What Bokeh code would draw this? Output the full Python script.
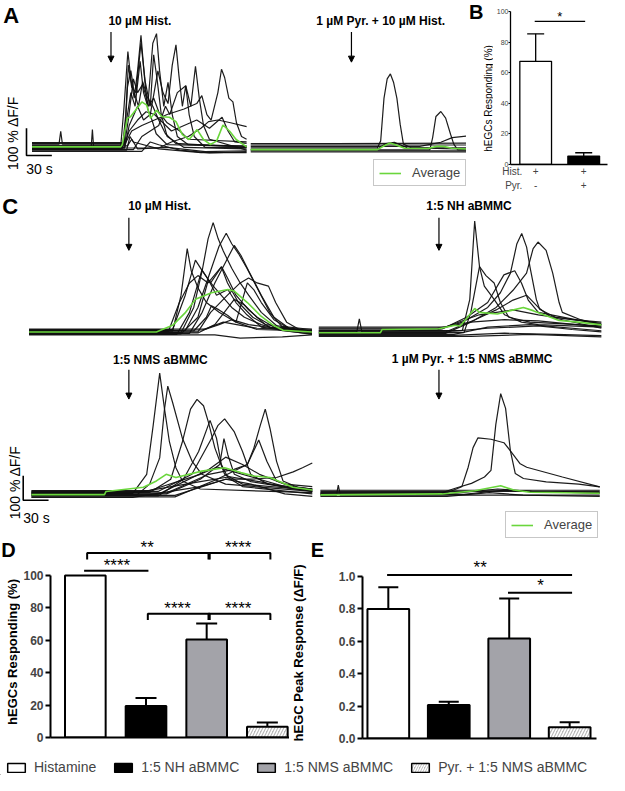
import numpy as np
from bokeh.plotting import figure
from bokeh.models import (Range1d, Arrow, NormalHead, Label, Legend, LegendItem, LinearAxis,
                          FixedTicker, NumeralTickFormatter, Whisker, TeeHead, ColumnDataSource)
from bokeh.layouts import column, row
from bokeh.embed import file_html
from bokeh.resources import INLINE
from bokeh.core.properties import value

FONT = "Liberation Sans"
FONT_V = value(FONT)
GREEN = "#6ad63c"
INK = "#101010"
SX, SY = 609 / 625, 775 / 791

# ------------------------------------------------------------------ data
# Calcium traces: (time s, dF/F %) points
A_HIST_TRACES = [
    [(0, 3), (105, 3), (109, 150), (113.5, 350), (117, 250), (121, 180), (125, 280), (129, 409), (133, 260), (137, 140), (142, 100), (147, 50), (160, 10), (254, 5)],
    [(0, -4), (107, -4), (111, 120), (114, 300), (118, 220), (123, 200), (129, 380), (134, 240), (140, 150), (144, 338), (148, 250), (153, 120), (160, 40), (180, 0), (254, -5)],
    [(0, 8), (108, 8), (112, 100), (117, 200), (122, 150), (128, 314), (132, 200), (137, 150), (143, 380), (147.4, 415), (151, 280), (156, 150), (161, 237), (166, 120), (172, 40), (185, 10), (254, 5)],
    [(0, 0), (110, 0), (115, 80), (125, 150), (132, 100), (140, 120), (149, 279), (155, 200), (161, 160), (166, 300), (170.4, 374), (174, 260), (178, 150), (182, 225), (186, 120), (192, 40), (205, 0), (254, 0)],
    [(0, -8), (120, -8), (130, 40), (140, 60), (150, 80), (158, 150), (163, 120), (172, 200), (182, 225), (188, 150), (193.5, 296), (198, 180), (203, 80), (210, 30), (254, -10)],
    [(0, 12), (32, 12), (34, 59), (36, 12), (110, 12), (118, 60), (130, 80), (145, 100), (160, 120), (180, 140), (195, 160), (201, 189), (207, 120), (212, 100), (220, 200), (224.3, 285), (228, 255), (233, 180), (237.8, 166), (242, 90), (248, 40), (254, 30)],
    [(0, -2), (70, -2), (71.5, 65), (73, -2), (150, -2), (165, 20), (185, 40), (200, 70), (209, 94), (220, 100), (235, 90), (254, 76)],
    [(0, 15), (110, 15), (115, 60), (125, 100), (135, 130), (145, 120), (155, 90), (165, 60), (180, 80), (195, 100), (210, 70), (225, 110), (232, 60), (240, 20), (254, 15)],
    [(0, -10), (112, -10), (116, 40), (120, 20), (150, -5), (200, -19), (254, -19)],
    [(0, 6), (113, 6), (118, 30), (125, -5), (160, 0), (205, -15), (254, -12)],
    [(0, -6), (109, -6), (113, 220), (117, 280), (121, 200), (126, 150), (131, 240), (137, 180), (143, 150), (150, 100), (158, 50), (170, 15), (254, 0)],
    [(0, 18), (110, 18), (114, 100), (120, 250), (125, 200), (131, 230), (138, 150), (144, 180), (150, 130), (160, 90), (175, 60), (185, 30), (254, 20)],
    [(0, -14), (130, -14), (140, 20), (150, 10), (175, -10), (210, -20), (254, -15)],
]
A_HIST_AVG = [(0, 2), (105, 2), (107, 11), (112.7, 106), (116.6, 112), (130, 166), (135.8, 154), (140.4, 106), (147.4, 136), (153.9, 112), (162.7, 110), (170.4, 94), (178, 47), (186, 29), (195.4, 65), (203, 29), (211, 11), (218.5, 23), (226, 82), (234, 59), (241.6, 29), (254, 2)]

A_PYR_TRACES = [
    [(0, 5), (150, 5), (153.8, 30), (157.7, 185), (161.5, 256), (165.3, 274), (169, 244), (173, 185), (176.9, 90), (180.7, 18), (190, 5), (256, 5)],
    [(0, -3), (212, -3), (215.3, 42), (219.2, 119), (225, 137), (230.7, 113), (236.5, 54), (240.3, 18), (245, -3), (256, -3)],
    [(0, 10), (200, 10), (225, 25), (238.4, 42), (256, 48)],
    [(0, -10), (256, -10)],
    [(0, 15), (120, 15), (256, 15)],
    [(0, 0), (150, 0), (160, 20), (170, 25), (185, 5), (256, 0)],
    [(0, -6), (256, -6)],
    [(0, 20), (100, 20), (256, 22)],
]
A_PYR_AVG = [(0, -2), (150, -2), (158, 12), (165, 22), (172, 15), (182, 3), (210, 2), (220, 10), (228, 10), (238, 3), (256, 0)]

C_HIST_TRACES = [
    [(0, 3), (170, 3), (180, 150), (187.3, 340), (192, 250), (200, 180), (210, 120), (225, 80), (245, 40), (270, 10), (335, 3)],
    [(0, -3), (180, -3), (195, 100), (205, 250), (212, 380), (218, 446), (224, 380), (230, 330), (240, 260), (250, 200), (260, 150), (275, 80), (295, 20), (335, 0)],
    [(0, 6), (185, 6), (200, 100), (215, 250), (225, 350), (233.5, 403), (240, 360), (248, 320), (258, 260), (270, 180), (285, 80), (300, 20), (335, 5)],
    [(0, -6), (190, -6), (205, 80), (220, 200), (235, 300), (243, 353), (250.8, 313), (260, 250), (275, 150), (290, 60), (310, 10), (335, -5)],
    [(0, 10), (170, 10), (185, 150), (197, 293), (205, 250), (215, 200), (228, 266), (235, 220), (245, 150), (260, 90), (280, 30), (335, 10)],
    [(0, 0), (200, 0), (215, 80), (235, 150), (250, 200), (260, 220), (270, 200), (283.5, 187), (292, 120), (305, 40), (320, 10), (335, 5)],
    [(0, -10), (175, -10), (190, 80), (204.7, 253), (212.4, 213), (222, 150), (235.4, 173), (245, 120), (258, 70), (275, 20), (335, -10)],
    [(0, 4), (195, 4), (210, 60), (216, 107), (225, 90), (235.4, 67), (245, 40), (258.5, 200), (266, 173), (275, 120), (290, 50), (310, 10), (335, 4)],
    [(0, -4), (200, -4), (220, 30), (243, 133), (255, 110), (270, 60), (290, 20), (335, -4)],
    [(0, 8), (205, 8), (230, 40), (250.8, 27), (270, 15), (335, 5)],
    [(0, -8), (180, -8), (200, 60), (212.4, 213), (220, 180), (230, 140), (240, 100), (255, 60), (275, 30), (300, 5), (335, -8)],
    [(0, 2), (165, 2), (178, 120), (190, 200), (200, 230), (212, 200), (227.7, 266), (235, 200), (248, 120), (265, 60), (285, 20), (335, 2)],
    [(0, 12), (210, 12), (225, 30), (240, 50), (260, 30), (300, 12), (335, 12)],
    [(0, -12), (220, -12), (250, -25), (300, -20), (335, -12)],
]
C_HIST_AVG = [(0, 0), (150.8, 0), (170, 27), (185.4, 80), (197, 133), (216, 160), (235.4, 173), (243, 167), (258.5, 120), (273.9, 67), (289.3, 27), (300.8, 7), (335, 0)]

C_NH_TRACES = [
    [(0, 5), (170, 5), (178.8, 133), (184.6, 453), (190.3, 267), (196, 187), (207.6, 133), (220, 70), (240, 40), (260, 30), (334.6, 20)],
    [(0, -3), (172, -3), (180, 80), (190.3, 267), (198, 230), (207.6, 200), (215, 120), (225, 60), (250, 40), (334.6, 25)],
    [(0, 8), (140, 8), (170, 40), (200, 100), (215, 160), (226.9, 240), (234.6, 360), (240.3, 402), (246.1, 346), (250, 267), (257.6, 133), (261.5, 93), (280, 60), (334.6, 35)],
    [(0, -6), (150, -6), (180, 40), (210, 100), (230, 170), (246, 240), (253.8, 340), (259.6, 367), (269.2, 333), (277, 240), (284.6, 120), (288.4, 80), (310, 50), (334.6, 30)],
    [(0, 12), (146, 12), (175, 60), (200, 120), (219.2, 233), (232, 250), (240, 200), (248, 130), (260, 80), (334.6, 30)],
    [(0, 0), (45, 0), (48, 53), (51, 0), (150, 0), (185, 50), (210, 90), (230, 130), (246, 150), (260, 100), (275, 60), (334.6, 15)],
    [(0, -10), (160, -10), (200, 20), (250, 30), (334.6, 5)],
    [(0, 15), (140, 15), (180, 40), (220, 50), (260, 45), (334.6, 20)],
    [(0, -14), (160, -14), (220, -5), (280, -10), (334.6, -15)],
    [(0, 3), (160, 3), (200, 15), (260, 25), (300, 10), (334.6, 0)],
    [(0, -18), (180, -18), (250, -10), (334.6, -20)],
    [(0, 20), (150, 20), (190, 70), (230, 90), (260, 70), (300, 50), (334.6, 40)],
]
C_NH_AVG = [(0, -3), (73, -3), (75, 10), (142.3, 13), (161.5, 27), (167.3, 24), (173, 47), (184.6, 96), (190.3, 80), (211.5, 73), (226.9, 87), (242.3, 100), (253.8, 87), (284.6, 47), (307.6, 40), (334.6, 29)]

C_NMS_TRACES = [
    [(0, 2), (120, 2), (136.5, 80), (144.2, 280), (151.9, 493), (157.6, 347), (163.4, 213), (171.1, 107), (178.8, 53), (200, 20), (332.6, 5)],
    [(0, -4), (125, -4), (140, 40), (151.9, 147), (157.6, 347), (161.5, 440), (167.2, 373), (178.8, 227), (190.3, 133), (201.9, 80), (230, 40), (332.6, 10)],
    [(0, 6), (140, 6), (165, 60), (178.8, 213), (188.4, 346), (196.1, 386), (203.8, 360), (209.6, 293), (217.3, 187), (228.8, 80), (250, 40), (332.6, 15)],
    [(0, -8), (150, -8), (180, 60), (198, 173), (211.5, 300), (219.2, 227), (225, 120), (232.6, 67), (250, 30), (332.6, 0)],
    [(0, 10), (150, 10), (190, 80), (213.4, 227), (221, 280), (228.8, 306), (240.3, 253), (250, 173), (259.6, 80), (280, 40), (332.6, 20)],
    [(0, 0), (160, 0), (200, 60), (223, 120), (228, 226), (232.6, 160), (240.3, 80), (260, 50), (332.6, 10)],
    [(0, -12), (170, -12), (220, 60), (255.7, 120), (263.4, 187), (271, 280), (276.9, 346), (282.6, 266), (290.3, 133), (297.9, 53), (320, 20), (332.6, 10)],
    [(0, 4), (160, 4), (210, 80), (240, 100), (255.7, 120), (269.2, 220), (278.8, 133), (290.3, 53), (310, 30), (332.6, 20)],
    [(0, -6), (170, -6), (230, 60), (260, 60), (290.3, 67), (310, 90), (321, 107), (332.6, 126)],
    [(0, 14), (140, 14), (200, 80), (220, 110), (240, 90), (270, 60), (300, 30), (332.6, 20)],
    [(0, -14), (120, -14), (200, 30), (230, 60), (260, 40), (300, 0), (332.6, -10)],
    [(0, 8), (130, 8), (200, 50), (235, 70), (270, 50), (310, 20), (332.6, 15)],
    [(0, -2), (150, -2), (210, 100), (230, 150), (250, 120), (270, 80), (300, 40), (332.6, 30)],
]
C_NMS_AVG = [(0, -3), (86.5, -3), (88.4, 10), (132.6, 27), (148, 53), (159.6, 80), (171.1, 67), (201.9, 93), (228.8, 107), (248, 87), (263.4, 73), (282.6, 67), (309.5, 27), (332.6, 16)]

C_PYR_TRACES = [
    [(0, 0), (140, 0), (159.7, 23), (178.9, 43), (194.3, 69), (202, 96), (207.7, 283), (213.5, 409), (219.3, 349), (225, 176), (230.8, 83), (240.4, 63), (267.4, 49), (305.8, 40), (330.8, 29)],
    [(0, 5), (150, 5), (167.4, 29), (175, 109), (180.8, 189), (186.6, 229), (202, 223), (217.3, 209), (225, 176), (236.6, 123), (244.3, 109), (286.6, 69), (330.8, 29)],
    [(0, -5), (19, -5), (21.2, 36), (23.5, -5), (330.8, -5)],
    [(0, 10), (330.8, 10)],
    [(0, -10), (150, -10), (200, 5), (240, -5), (330.8, -10)],
    [(0, 3), (160, 3), (210, 20), (250, 10), (330.8, 3)],
    [(0, -2), (170, -2), (215, 15), (260, 8), (330.8, 5)],
    [(0, 15), (330.8, 15)],
]
C_PYR_AVG = [(0, -4), (144.3, 0), (182.7, 13), (213.5, 33), (228.9, 16), (248, 7), (330.8, 3)]

# Bar charts
B_MEAN = [67.5, 5.5]
B_SEM = [18.0, 2.2]
B_ROWS = ["Hist.", "Pyr."]
B_HIST = ["+", "+"]
B_PYR = ["-", "+"]
B_TICKS = [0, 20, 40, 60, 80, 100]

GROUPS = ["Histamine", "1:5 NH aBMMC", "1:5 NMS aBMMC", "Pyr. + 1:5 NMS aBMMC"]
GROUP_FILL = ["white", "black", "#a3a3a9", "#b9b9b9"]
GROUP_HATCH = [" ", " ", " ", "/"]
D_MEAN = [100, 19.4, 60.6, 6.6]
D_SEM = [0, 5.0, 9.8, 2.6]
D_TICKS = [0, 20, 40, 60, 80, 100]
# (bar i, bar j, height, stars, end ticks)
D_SIG = [(1, 3, 114, "**", True), (3, 4, 114, "****", True), (1, 2, 103, "****", False),
         (2, 3, 76.5, "****", True), (3, 4, 76.5, "****", True)]
E_MEAN = [0.80, 0.207, 0.618, 0.07]
E_SEM = [0.134, 0.02, 0.247, 0.03]
E_TICKS = [0.0, 0.2, 0.4, 0.6, 0.8, 1.0]
E_SIG = [(1, 4, 1.01, "**", False), (3, 4, 0.90, "*", False)]


# ------------------------------------------------------------------ helpers
def sc(v, s):
    return int(round(v * s))


def base_fig(w, h, xr, yr, **kw):
    p = figure(width=w, height=h, output_backend="svg", toolbar_location=None,
               x_range=Range1d(*xr), y_range=Range1d(*yr), outline_line_color=None,
               background_fill_color="white", border_fill_color="white", **kw)
    p.frame_align = False
    p.xgrid.visible = False
    p.ygrid.visible = False
    return p


def trace_figure(wr, hr, x0, y0, kx, ky):
    return base_fig(sc(wr, SX), sc(hr, SY), (-x0 / kx, (wr - x0) / kx), (-(hr - y0) / ky, y0 / ky),
                    x_axis_location=None, y_axis_location=None, min_border=0)


def text_figure(w, wr, hr):
    # a plain strip (no axes) measured in reference pixels from its top-left corner
    return base_fig(w, sc(hr, SY), (0, wr), (hr, 0), x_axis_location=None, y_axis_location=None,
                    min_border=0)


def text(p, x, y, s, size, bold=False, angle=0.0, align="center", baseline="middle"):
    p.add_layout(Label(x=x, y=y, text=s, text_font=FONT, text_font_size=f"{size}px",
                       text_font_style="bold" if bold else "normal", angle=angle,
                       text_align=align, text_baseline=baseline, text_color="black"))


def arrow(p, x, y0, y1):
    p.add_layout(Arrow(end=NormalHead(size=6, fill_color="black", line_color="black", line_width=1),
                       x_start=x, y_start=y0, x_end=x, y_end=y1, line_width=1.2, line_color="black"))


def group(p, traces, avg, dt, dv):
    xs = [[pt[0] + dt for pt in tr] for tr in traces]
    ys = [[pt[1] + dv for pt in tr] for tr in traces]
    p.multi_line(xs, ys, line_color=INK, line_width=1.2, line_alpha=0.95)
    return p.line([pt[0] + dt for pt in avg], [pt[1] + dv for pt in avg],
                  line_color=GREEN, line_width=1.6)


def scale_bar(p, x, y, sec, pct):
    p.line([x, x, x + sec], [y + pct, y, y], line_color="black", line_width=1.6)


def avg_legend(p, r, loc):
    lg = Legend(items=[LegendItem(label="Average", renderers=[r])], location=loc,
                label_text_font=FONT, label_text_font_size="13px", glyph_width=22, glyph_height=14,
                label_standoff=11, padding=5, margin=0, border_line_color="#8f8f8f",
                border_line_width=1.5, background_fill_color="white", background_fill_alpha=1,
                label_height=14)
    p.add_layout(lg)


def bar_figure(w, hr, xr, yr, bl, br, bb):
    p = base_fig(w, sc(hr, SY), xr, yr, min_border_left=bl, min_border_right=br,
                 min_border_top=0, min_border_bottom=bb)
    p.xaxis.ticker = FixedTicker(ticks=[])
    p.xaxis.major_label_text_font_size = "0px"
    p.xaxis.major_tick_line_color = None
    p.xaxis.minor_tick_line_color = None
    p.xaxis.major_tick_out = 0
    p.xaxis.major_tick_in = 0
    p.yaxis.minor_tick_line_color = None
    p.yaxis.major_tick_in = 0
    return p


# ------------------------------------------------------------------ panel A
KX = 26 / 30
pa = trace_figure(478, 197, 32.3, 150, KX, 0.28)
ra = group(pa, A_HIST_TRACES, A_HIST_AVG, 0, 0)
group(pa, A_PYR_TRACES, A_PYR_AVG, 258.9, -6)
text(pa, -24.6, 482, "A", 22, bold=True)
text(pa, 127.7, 460, "10 µM Hist.", 12, bold=True)
text(pa, 412.7, 460, "1 µM Pyr. + 10 µM Hist.", 12, bold=True)
arrow(pa, 93.5, 421, 311)
arrow(pa, 378.1, 421, 311)
scale_bar(pa, -6.5, -29.6, 30, 100)
text(pa, -22.6, 53, "100 % ΔF/F", 14, angle=np.pi / 2)
text(pa, 8.9, -78, "30 s", 14)
avg_legend(pa, ra, (sc(383, SX), 7))

# ------------------------------------------------------------------ panel B
pbl = text_figure(27, 28, 197)
text(pbl, 10, 12, "B", 20, bold=True)
text(pbl, 22.5, 100, "hEGCs Responding (%)", 10, angle=np.pi / 2)

pb = bar_figure(116, 197, (0.476, 2.495), (0, 107.3), 13, 2, 24)
bsrc = ColumnDataSource(dict(x=[1, 2], top=B_MEAN, hi=[m + s for m, s in zip(B_MEAN, B_SEM)],
                             fill=["white", "black"]))
pb.vbar(x="x", top="top", width=0.66, source=bsrc, fill_color="fill", line_color="black", line_width=1.3)
pb.add_layout(Whisker(base="x", lower="top", upper="hi", source=bsrc, lower_head=None,
                      upper_head=TeeHead(size=17, line_width=1.3), line_width=1.3))
pb.yaxis.ticker = FixedTicker(ticks=B_TICKS)
pb.yaxis.bounds = (0, 100)
pb.yaxis.major_tick_out = 2
pb.yaxis.major_label_standoff = 0
pb.yaxis.major_label_text_font = FONT
pb.yaxis.major_label_text_font_size = "7px"
pb.xaxis.axis_line_width = 1.3
pb.yaxis.axis_line_width = 1.3
# treatment rows below the bars as two stacked tick-label rows
bx1 = pb.xaxis[0]
bx1.ticker = FixedTicker(ticks=[0.515, 1, 2])
bx1.major_label_overrides = {0.515: B_ROWS[0], 1: B_HIST[0], 2: B_HIST[1]}
bx1.major_label_text_font = FONT
bx1.major_label_text_font_size = "10px"
bx1.major_label_standoff = 1
bx2 = LinearAxis(ticker=FixedTicker(ticks=[0.544, 1, 2]),
                 major_label_overrides={0.544: B_ROWS[1], 1: B_PYR[0], 2: B_PYR[1]},
                 axis_line_color=None, major_tick_line_color=None, minor_tick_line_color=None,
                 major_tick_out=0, major_tick_in=0,
                 major_label_standoff=0, major_label_text_font=FONT, major_label_text_font_size="10px")
pb.add_layout(bx2, "below")
pb.line([0.98, 2.03], [93.6, 93.6], line_color="black", line_width=1.3)
text(pb, 1.5, 97, "*", 13)

# ------------------------------------------------------------------ panel C
pc = trace_figure(625, 353, 29.3, 306.5, KX, 0.25)
TOP = 661
rc = group(pc, C_HIST_TRACES, C_HIST_AVG, 0, TOP)
group(pc, C_NH_TRACES, C_NH_AVG, 343.1, TOP)
group(pc, C_NMS_TRACES, C_NMS_AVG, 2.8, 0)
group(pc, C_PYR_TRACES, C_PYR_AVG, 345.0, 0)
text(pc, -22.3, 1172, "C", 22, bold=True)
text(pc, 154.6, 1174, "10 µM Hist.", 12, bold=True)
text(pc, 521, 1174, "1:5 NH aBMMC", 12, bold=True)
text(pc, 155.4, 547, "1:5 NMS aBMMC", 12, bold=True)
text(pc, 524.6, 550, "1 µM Pyr. + 1:5 NMS aBMMC", 12, bold=True)
arrow(pc, 118.2, 1127, 994)
arrow(pc, 485.4, 1127, 994)
arrow(pc, 118.2, 507, 387)
arrow(pc, 485.4, 507, 387)
scale_bar(pc, -6.9, -26, 30, 100)
text(pc, -16.5, 47, "100 % ΔF/F", 14, angle=np.pi / 2)
text(pc, 8.9, -98, "30 s", 14)
avg_legend(pc, rc, (sc(518, SX), 1))


# ------------------------------------------------------------------ panels D, E
def grouped_bars(p, means, sems, width, cap, lw, sig, star_dy, tick_len, star_size):
    xs = list(range(1, len(means) + 1))
    src = ColumnDataSource(dict(x=xs, top=means, fill=GROUP_FILL, hatch=GROUP_HATCH))
    p.vbar(x="x", top="top", width=width, source=src, fill_color="fill", line_color="black",
           line_width=lw, hatch_pattern="hatch", hatch_color="white", hatch_scale=6, hatch_weight=1.6)
    keep = [i for i, s in enumerate(sems) if s > 0]
    wsrc = ColumnDataSource(dict(x=[xs[i] for i in keep], lo=[means[i] for i in keep],
                                 hi=[means[i] + sems[i] for i in keep]))
    p.add_layout(Whisker(base="x", lower="lo", upper="hi", source=wsrc, lower_head=None,
                         upper_head=TeeHead(size=cap, line_width=lw), line_width=lw))
    for (i, j, y, stars, ticks) in sig:
        if ticks:
            p.line([i + 0.03, i + 0.03, j + 0.05, j + 0.05], [y - tick_len, y, y, y - tick_len],
                   line_color="black", line_width=lw)
        else:
            p.line([i - 0.02, j + 0.04], [y, y], line_color="black", line_width=lw)
        p.text(x=[(i + j) / 2 + 0.02], y=[y + star_dy], text=[stars], text_font=FONT_V,
               text_font_size=f"{star_size}px", text_align="center", text_baseline="middle",
               text_color="black")


def style_y(p, ticks, bounds):
    p.yaxis.ticker = FixedTicker(ticks=ticks)
    p.yaxis.bounds = bounds
    p.yaxis.major_tick_out = 5
    p.yaxis.major_tick_line_width = 2
    p.yaxis.axis_line_width = 2
    p.xaxis.axis_line_width = 2
    p.yaxis.major_label_standoff = 2
    p.yaxis.major_label_text_font = FONT
    p.yaxis.major_label_text_font_style = "bold"
    p.yaxis.major_label_text_font_size = "12px"


pdl = text_figure(20, 21, 225)
text(pdl, 8.5, 11, "D", 20, bold=True)
text(pdl, 12.5, 115, "hEGCs Responding (%)", 13, bold=True, angle=np.pi / 2)

pd_ = bar_figure(269, 225, (0.426, 4.365), (0, 122.3), 28, 0, 22)
grouped_bars(pd_, D_MEAN, D_SEM, 0.67, 21, 2, D_SIG, 3.4, 4, 17)
style_y(pd_, D_TICKS, (0, 100))

pel = text_figure(45, 46, 225)
text(pel, 28.5, 11, "E", 20, bold=True)
text(pel, 9.5, 116, "hEGC Peak Response (ΔF/F)", 13, bold=True, angle=np.pi / 2)

pe = bar_figure(275, 225, (0.573, 4.444), (0, 1.229), 28, 13, 21)
grouped_bars(pe, E_MEAN, E_SEM, 0.69, 20, 2, E_SIG, 0.045, 0, 17)
style_y(pe, E_TICKS, (0, 1))
pe.yaxis.formatter = NumeralTickFormatter(format="0.0")

# ------------------------------------------------------------------ shared legend
# proxy renderers lie outside the visible range; only their legend swatches show
pl = base_fig(609, 16, (100, 101), (100, 101), x_axis_location=None, y_axis_location=None, min_border=0)
items = []
for k, (g, f, h) in enumerate(zip(GROUPS, GROUP_FILL, GROUP_HATCH)):
    r = pl.vbar(x=[k + 1], top=[D_MEAN[k]], width=0.5, fill_color=f, line_color="black", line_width=1.5,
                hatch_pattern=h, hatch_color="white", hatch_scale=5, hatch_weight=1.5)
    items.append(LegendItem(label=g, renderers=[r]))
pl.add_layout(Legend(items=items, orientation="horizontal", location=(5, 0), label_text_font=FONT,
                     label_text_font_size="14px", glyph_width=22, glyph_height=11, label_standoff=7,
                     spacing=16, padding=0, margin=0, border_line_color=None,
                     background_fill_alpha=0, label_height=14))

layout = column(row(pa, pbl, pb), pc, row(pdl, pd_, pel, pe), pl)
open("out.html", "w").write(file_html(layout, INLINE))
